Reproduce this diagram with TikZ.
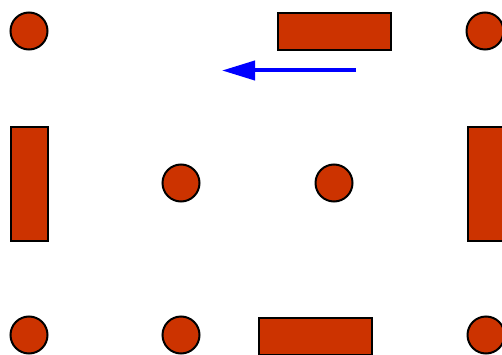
\documentclass[tikz,border=0pt]{standalone}
\usepackage{xcolor}
\usepackage{tikz}
\usetikzlibrary{arrows.meta}

\definecolor{brick}{HTML}{CC3300}

\begin{document}
\begin{tikzpicture}[
    x=1pt, y=-1pt,
    line width=2pt,
    ball/.style={circle, draw, fill=brick, inner sep=0pt, minimum size=37pt},
    hbar/.style={rectangle, draw, fill=brick, inner sep=0pt, minimum width=113pt, minimum height=37pt},
    vbar/.style={rectangle, draw, fill=brick, inner sep=0pt, minimum width=37pt, minimum height=113pt},
    push/.style={-{Triangle[length=33pt, width=19pt]}, blue, line width=4pt}
]
\useasboundingbox (0,0) rectangle (502,355);
\node[ball] (tl) at (29,31) {};
\node[ball] (tr) at (485,31) {};
\node[ball] (cl) at (181,183) {};
\node[ball] (cr) at (334,183) {};
\node[ball] (bl) at (29,335) {};
\node[ball] (bm) at (181,335) {};
\node[ball] (br) at (486,335) {};
\node[hbar] (top) at (334,31.5) {};
\node[vbar] (left) at (29.5,184) {};
\node[vbar] (right) at (486,184) {};
\node[hbar] (bottom) at (315,336) {};
\coordinate (from) at (356,70.5);
\coordinate (to) at (222,70.5);
\draw[push] (from) -- (to);
\end{tikzpicture}
\end{document}
